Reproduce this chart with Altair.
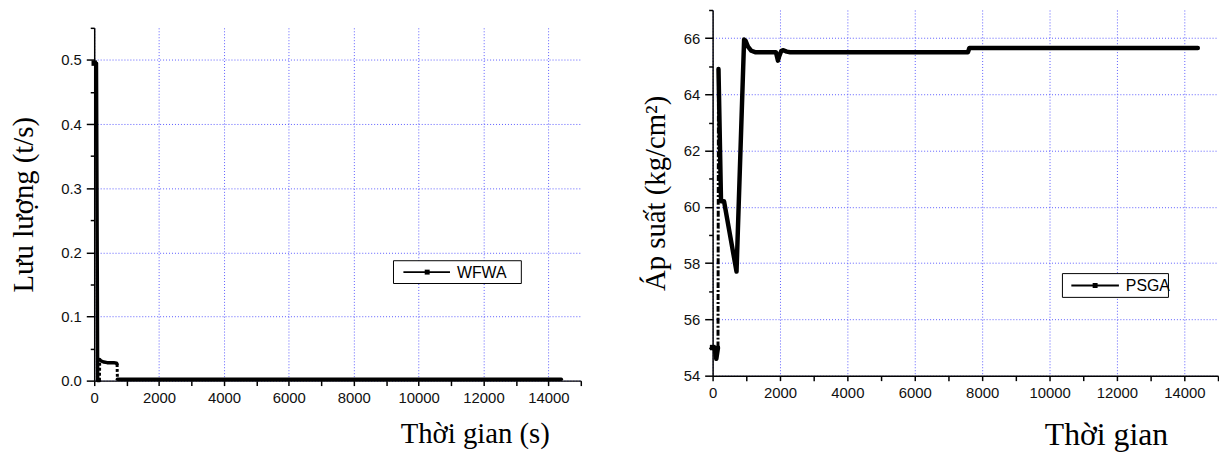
import altair as alt
import pandas as pd

# ---------------- data ----------------
WFWA_T = [0, 70, 107, 160, 170, 200, 300, 400, 600, 690, 705, 715, 14400]
WFWA_V = [0.495, 0.495, 0.0, 0.0, 0.033, 0.031, 0.029, 0.028, 0.028, 0.027, 0.026, 0.002, 0.002]
WFWA_DASHED_STEPS = [3, 10]

PSGA_T = [0, 60, 110, 160, 175, 250, 340, 710, 935, 980, 1050, 1150, 1260, 1880, 1910,
          1940, 1975, 2040, 2100, 2200, 2300, 7580, 7620, 14400]
PSGA_V = [55.0, 55.0, 54.6, 55.0, 64.9, 60.2, 60.2, 57.7, 65.95, 65.9, 65.7, 65.55, 65.5, 65.5, 65.35,
          65.2, 65.35, 65.55, 65.57, 65.52, 65.5, 65.5, 65.65, 65.65]
PSGA_DASHED_STEPS = [3]

LEGEND_LEFT = ["WFWA"]
LEGEND_RIGHT = ["PSGA"]

X_MAJOR = [0, 2000, 4000, 6000, 8000, 10000, 12000, 14000]
X_MINOR = [1000, 3000, 5000, 7000, 9000, 11000, 13000, 15000]
LEFT_Y_MAJOR = [0.0, 0.1, 0.2, 0.3, 0.4, 0.5]
LEFT_Y_MINOR = [0.05, 0.15, 0.25, 0.35, 0.45, 0.55]
RIGHT_Y_MAJOR = [54, 56, 58, 60, 62, 64, 66]
RIGHT_Y_MINOR = [55, 57, 59, 61, 63, 65, 67]

X_TITLE_LEFT = "Thời gian (s)"
X_TITLE_RIGHT = "Thời gian"
Y_TITLE_LEFT = "Lưu lượng (t/s)"
Y_TITLE_RIGHT = "Áp suất (kg/cm²)"

SERIF = "Liberation Serif"
SANS = "Liberation Sans"
GRID = "#5c5cff"


def runs(t, v, dashed):
    rows, run, prev = [], 0, None
    for i in range(len(t) - 1):
        style = "dashed" if i in dashed else "solid"
        if style != prev:
            run += 1
            rows.append(dict(t=t[i], v=v[i], run=run, style=style, order=i))
            prev = style
        rows.append(dict(t=t[i + 1], v=v[i + 1], run=run, style=style, order=i + 1))
    return pd.DataFrame(rows)


def panel(t, v, dashed, legend, xdom, ydom, y_major, y_minor, yfmt, w, h,
          xtitle, ytitle, tx, ty, tsize, ypad, lw, dash, dw, box):
    df = runs(t, v, dashed)
    xs = alt.Scale(domain=xdom, nice=False, zero=False)
    ys = alt.Scale(domain=ydom, nice=False, zero=False)
    common = dict(domainColor="black", domainWidth=1.5, tickColor="black", tickWidth=1.5)
    x_major = alt.Axis(values=X_MAJOR, orient="bottom", format="d", tickSize=5,
                       labelFont=SANS, labelFontSize=15, labelColor="#111", labelPadding=5,
                       labelFlush=False, labelOverlap=False,
                       grid=True, gridColor=GRID, gridDash=[1, 2], gridWidth=1,
                       title=xtitle, titleFont=SERIF, titleFontSize=tsize, titleFontWeight="normal",
                       titleColor="black", titleX=tx, titleY=ty, titleAlign="center",
                       titleBaseline="alphabetic", **common)
    y_major_ax = alt.Axis(values=y_major, orient="left", format=yfmt, tickSize=8,
                          labelFont=SANS, labelFontSize=15, labelColor="#111", labelPadding=5,
                          labelFlush=False, labelOverlap=False,
                          grid=True, gridColor=GRID, gridDash=[1, 2], gridWidth=1,
                          title=ytitle, titleFont=SERIF, titleFontSize=29, titleFontWeight="normal",
                          titleColor="black", titlePadding=ypad, **common)
    x_minor = alt.Axis(values=X_MINOR, orient="bottom", tickSize=5, labels=False, grid=False,
                       domain=False, title=None, tickColor="black", tickWidth=1.5)
    y_minor = alt.Axis(values=y_minor, orient="left", tickSize=4, labels=False, grid=False,
                       domain=False, title=None, tickColor="black", tickWidth=1.5)

    solid = alt.Chart(df).transform_filter("datum.style == 'solid'").mark_line(
        color="black", strokeWidth=lw, strokeJoin="round", strokeCap="round"
    ).encode(
        x=alt.X("t:Q", scale=xs, axis=x_major),
        y=alt.Y("v:Q", scale=ys, axis=y_major_ax),
        detail="run:N", order="order:Q",
    )
    dashed_l = alt.Chart(df).transform_filter("datum.style == 'dashed'").mark_line(
        color="black", strokeWidth=dw, strokeDash=dash
    ).encode(
        x=alt.X("t:Q", scale=xs, axis=x_minor),
        y=alt.Y("v:Q", scale=ys, axis=y_minor),
        detail="run:N", order="order:Q",
    )
    first = pd.DataFrame({"t": [t[0]], "v": [v[0]]})
    marker = alt.Chart(first).mark_square(color="black", size=30, opacity=1).encode(
        x=alt.X("t:Q", scale=xs, axis=None),
        y=alt.Y("v:Q", scale=ys, axis=None),
    )
    ld = pd.DataFrame({"label": legend})
    bx1, by1, bx2, by2, lx1, lx2, ly, mx, txx = box
    lbox = alt.Chart(ld).mark_rect(fill="white", stroke="black", strokeWidth=1).encode(
        x=alt.value(bx1), x2=alt.value(bx2), y=alt.value(by1), y2=alt.value(by2))
    lline = alt.Chart(ld).mark_rule(color="black", strokeWidth=2).encode(
        x=alt.value(lx1), x2=alt.value(lx2), y=alt.value(ly))
    lmark = alt.Chart(ld).mark_square(color="black", size=25, opacity=1).encode(
        x=alt.value(mx), y=alt.value(ly))
    ltext = alt.Chart(ld).mark_text(align="left", baseline="middle", font=SANS, fontSize=16,
                                    color="black").encode(
        x=alt.value(txx), y=alt.value(ly + 1), text="label:N")
    layers = [solid, dashed_l, marker, lbox, lline, lmark, ltext]
    return alt.layer(*layers).resolve_axis(x="independent", y="independent").properties(
        width=w, height=h)


left = panel(WFWA_T, WFWA_V, WFWA_DASHED_STEPS, LEGEND_LEFT, [0, 15000], [0, 0.55],
             LEFT_Y_MAJOR, LEFT_Y_MINOR, ".1f", 491, 356,
             X_TITLE_LEFT, Y_TITLE_LEFT, 384, 62, 29, 22, 3.5, [3, 2], 3,
             (302, 235, 431, 258, 312, 359, 246.5, 336, 366))
right = panel(PSGA_T, PSGA_V, PSGA_DASHED_STEPS, LEGEND_RIGHT, [0, 15000], [54, 67],
              RIGHT_Y_MAJOR, RIGHT_Y_MINOR, "d", 510, 369,
              X_TITLE_RIGHT, Y_TITLE_RIGHT, 397, 69, 32, 13, 4.5, [6, 2, 2, 2], 3,
              (353, 266, 460, 290, 362, 410, 278, 386, 417))

# small blank strip that pushes the left panel down relative to the right one
spacer = alt.Chart(pd.DataFrame({"a": [0]})).mark_rule(color="white", strokeWidth=1).encode(
    x=alt.value(0), y=alt.value(0), y2=alt.value(1)
).properties(width=10, height=1)

chart = alt.hconcat(alt.vconcat(spacer, left, spacing=15), right, spacing=60).properties(
    padding={"left": 2, "top": -1, "right": 0, "bottom": 0}
).configure_view(stroke=None)

chart.save("out.html", embed_options={"renderer": "svg", "actions": False})
